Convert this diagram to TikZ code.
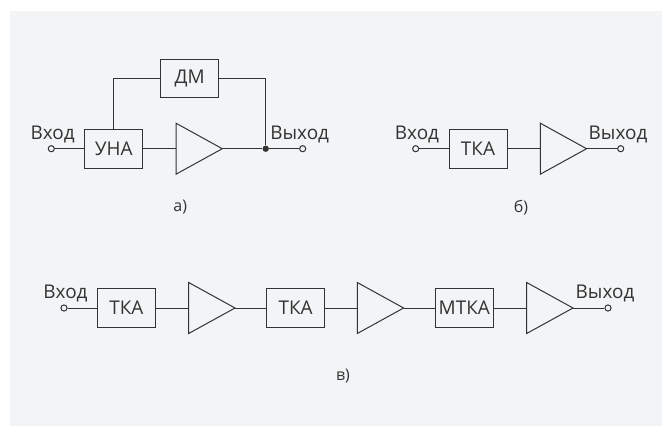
\documentclass[tikz,border=0pt]{standalone}
\usepackage{fontspec}
\setmainfont{Open Sans}
\definecolor{panel}{HTML}{F2F4F6}
\definecolor{ink}{HTML}{333333}
\tikzset{x=0.75pt,y=-0.75pt,
 box/.style={draw=ink,line width=0.75pt,minimum width=43.5pt,minimum height=29pt,inner sep=0pt,text=ink,font=\fontsize{14.2}{16}\selectfont},
 wire/.style={draw=ink,line width=0.75pt},
 amp/.style={draw=ink,line width=0.75pt,line join=miter},
 term/.style={circle,draw=ink,fill=panel,line width=0.75pt,minimum size=4.6pt,inner sep=0pt},
 dot/.style={circle,fill=ink,minimum size=4.8pt,inner sep=0pt},
 lab/.style={text=ink,font=\fontsize{14.2}{16}\selectfont,inner sep=0pt},
 captext/.style={text=ink,font=\fontsize{12}{14}\selectfont,inner sep=0pt}}
\newcommand{\ampl}[3]{% name, left x, centre y
 \coordinate (#1i) at (#2,#3);
 \coordinate (#1o) at (#2+46.3,#3);
 \draw[amp] (#2,#3-25.5) -- (#2+46.3,#3) -- (#2,#3+25.5) -- cycle;}
\begin{document}
\begin{tikzpicture}
\useasboundingbox (0,0) rectangle (662,426);
\fill[panel] (10,11) rectangle (662,426);
% a
\node[box] (una) at (113.7,148.7) {УНА};
\node[box] (dm) at (189.7,78.4) {ДМ};
\ampl{a}{176}{148.7}
\node[term] (ain) at (51.3,148.7) {};
\node[term] (aout) at (302.7,148.7) {};
\node[dot] (aj) at (265.7,148.7) {};
\draw[wire] (ain) -- (una);
\draw[wire] (una) -- (ai);
\draw[wire] (ao) -- (aj);
\draw[wire] (aj) -- (aout);
\draw[wire] (una.north) |- (dm.west);
\draw[wire] (dm.east) -| (aj);
\node[lab] (l1) at (52.7,134) {Вход};
\node[lab] (l2) at (299.7,134) {Выход};
\node[captext] (ca) at (180.3,207.5) {а)};
% b
\node[box] (tb) at (478,148.7) {ТКА};
\ampl{b}{540.3}{148.7}
\node[term] (bin) at (415.7,148.7) {};
\node[term] (bout) at (620.7,148.7) {};
\draw[wire] (bin) -- (tb);
\draw[wire] (tb) -- (bi);
\draw[wire] (bo) -- (bout);
\node[lab] (l3) at (417,134) {Вход};
\node[lab] (l4) at (618,134) {Выход};
\node[captext] (cb) at (521,207.5) {б)};
% c
\node[box] (t1) at (126.3,308) {ТКА};
\ampl{c}{188.7}{308}
\node[box] (t2) at (295.7,308) {ТКА};
\ampl{d}{357.3}{308}
\node[box] (t3) at (464.3,308) {МТКА};
\ampl{e}{526.7}{308}
\node[term] (cin) at (64,308) {};
\node[term] (cout) at (608,308) {};
\draw[wire] (cin) -- (t1);
\draw[wire] (t1) -- (ci);
\draw[wire] (co) -- (t2);
\draw[wire] (t2) -- (di);
\draw[wire] (do) -- (t3);
\draw[wire] (t3) -- (ei);
\draw[wire] (eo) -- (cout);
\node[lab] (l5) at (65.5,293.5) {Вход};
\node[lab] (l6) at (605,293.5) {Выход};
\node[captext] (cc) at (343,376.5) {в)};
\end{tikzpicture}
\end{document}
